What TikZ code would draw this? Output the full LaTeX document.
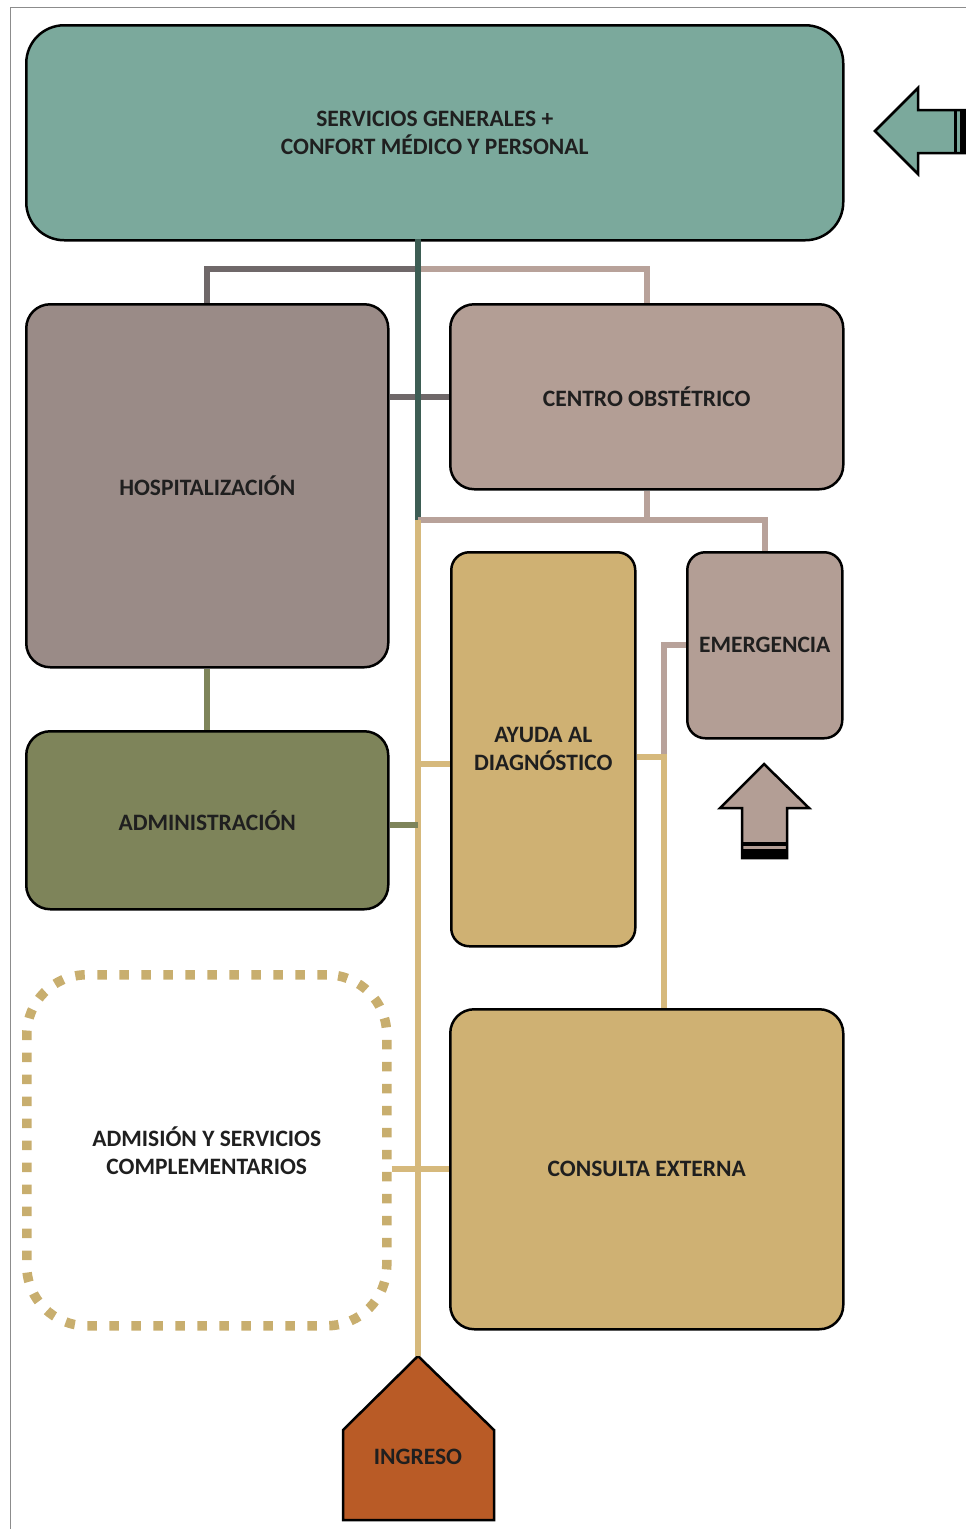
\documentclass[tikz,border=0pt]{standalone}
\usepackage{fontspec}
\setmainfont{Carlito}
\usetikzlibrary{positioning}
\definecolor{servfill}{HTML}{7BA99C}
\definecolor{hospfill}{HTML}{9A8B87}
\definecolor{obstfill}{HTML}{B39E95}
\definecolor{diagfill}{HTML}{CFB173}
\definecolor{admfill}{HTML}{7E845A}
\definecolor{ingfill}{HTML}{B95B26}
\definecolor{dotline}{HTML}{C8AE6E}
\definecolor{spinedark}{HTML}{3D5D54}
\definecolor{greyline}{HTML}{6F6869}
\definecolor{pinkline}{HTML}{B8A29A}
\definecolor{tanline}{HTML}{D6B97C}

\begin{document}
\begin{tikzpicture}[x=1pt,y=-1pt,
areanode/.style={rectangle, rounded corners=24pt, draw=black, line width=2.5pt, anchor=north west, align=center, inner sep=0pt, text=black!88, font=\fontsize{23.5}{28}\selectfont\bfseries},
link/.style={line width=6pt},
]
\useasboundingbox (0,0) rectangle (966,1529);
%Frame
\draw[black!45, line width=1pt] (10,1529) -- (10,7) -- (966,7);

%Nodes
\node[areanode, fill=servfill, rounded corners=38pt, minimum width=817pt, minimum height=215pt] (serv) at (25,24) {SERVICIOS GENERALES +\\CONFORT MÉDICO Y PERSONAL};
\node[areanode, fill=hospfill, minimum width=362pt, minimum height=363pt] (hosp) at (25,303) {HOSPITALIZACIÓN};
\node[areanode, fill=obstfill, minimum width=393pt, minimum height=185pt] (obst) at (449,303) {CENTRO OBSTÉTRICO};
\node[areanode, fill=diagfill, rounded corners=18pt, minimum width=184pt, minimum height=394pt] (diag) at (450,551) {AYUDA AL\\DIAGNÓSTICO};
\node[areanode, fill=obstfill, rounded corners=18pt, minimum width=155pt, minimum height=186pt] (emerg) at (686,551) {EMERGENCIA};
\node[areanode, fill=admfill, minimum width=362pt, minimum height=178pt] (adm) at (25,730) {ADMINISTRACIÓN};
\node[areanode, fill=diagfill, minimum width=393pt, minimum height=320pt] (cons) at (449,1008) {CONSULTA EXTERNA};
\node[areanode, draw=dotline, fill=none, line width=9.5pt, dash pattern=on 9.5pt off 12.5pt, rounded corners=60pt, minimum width=360pt, minimum height=351pt] (admis) at (22,970) {ADMISIÓN Y SERVICIOS\\COMPLEMENTARIOS};

%Ingreso
\draw[fill=ingfill, line width=2.5pt] (343,1430) -- (418,1356) -- (494,1430) -- (494,1520) -- (343,1520) -- cycle;
\node[text=black!88, font=\fontsize{23.5}{28}\selectfont\bfseries] (ing) at (418,1457) {INGRESO};
\coordinate (ingtip) at (418,1356);

%Arrows
\draw[fill=servfill, line width=2.5pt] (875,131) -- (918,88) -- (918,110) -- (970,110) -- (970,153) -- (918,153) -- (918,174) -- cycle;
\fill[black] (954,110) rectangle (957,153);
\fill[black] (960,110) rectangle (966,153);
\draw[fill=obstfill, line width=2.5pt] (764,764) -- (809,808) -- (787,808) -- (787,858) -- (742,858) -- (742,808) -- (720,808) -- cycle;
\fill[black] (742,842) rectangle (787,846);
\fill[black] (742,849) rectangle (787,858);

%Junctions
\coordinate (top) at (418,239);
\coordinate (j1) at (418,269);
\coordinate (j2) at (418,520);
\coordinate (j3) at (418,764);
\coordinate (j4) at (664,757);
\coordinate (j5) at (418,825);

%Lines
\draw[link, greyline] (hosp.north) |- (j1);
\draw[link, pinkline] (j1) -| (obst.north);
\draw[link, greyline] (obst.west -| hosp.east) -- (obst.west);
\draw[link, spinedark] (top) -- (j2);
\draw[link, pinkline] (obst.south) -- (obst.south |- j2);
\draw[link, pinkline] (j2) -| (emerg.north);
\draw[link, tanline] (j2) -- (ingtip);
\draw[link, tanline] (j3) -- (diag.west |- j3);
\draw[link, pinkline] (emerg.west) -| (j4);
\draw[link, tanline] (diag.east |- j4) -- (j4) -- (j4 |- cons.north);
\draw[link, admfill] (hosp.south) -- (adm.north);
\draw[link, admfill] (adm.east |- j5) -- (j5);
\draw[link, tanline] (admis.east |- cons.west) -- (cons.west);

\end{tikzpicture}
\end{document}
